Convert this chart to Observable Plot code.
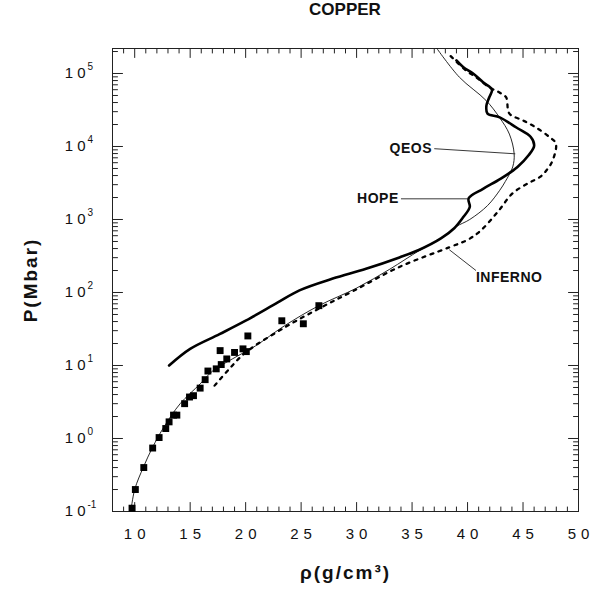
<!DOCTYPE html>
<html><head><meta charset="utf-8">
<script src="https://cdn.jsdelivr.net/npm/d3@7"></script>
<script src="https://cdn.jsdelivr.net/npm/@observablehq/plot@0.6"></script>
<style>
body{margin:0;background:#fff;}
#title{height:35px;line-height:35px;font:bold 17px "Liberation Sans",Arial,sans-serif;padding-left:88px;width:514px;text-align:center;color:#111;}
</style>
</head><body>
<div id="title">COPPER</div>
<div id="chart"></div>
<script>
// ---- data ----
const xTickLabels = [10, 15, 20, 25, 30, 35, 40, 45, 50];
const yDecades = [0.1, 1, 10, 100, 1000, 10000, 100000];
const yExponents = ["-1", "0", "1", "2", "3", "4", "5"];

// QEOS (thin solid)
const qeosRho = [9.65, 10.0, 10.8, 11.6, 12.65, 14.1, 15.9, 17.06, 18.8, 20.9, 23.5, 26.6, 30.0, 33.0, 35.66, 37.6, 38.95, 40.2, 41.8, 42.9, 43.4, 44.07, 44.2, 43.77, 42.87, 41.67, 39.26, 37.2];
const qeosP   = [0.10, 0.20, 0.41, 0.75, 1.45, 3.0, 5.6, 8.5, 12.3, 18.6, 35, 66, 115, 209, 376, 550, 795, 1000, 1550, 2510, 3310, 5250, 7940, 14800, 25100, 42700, 89100, 224000];

// HOPE (thick solid)
const hopeRho = [13.1, 15.0, 17.65, 20.0, 22.9, 24.85, 27.85, 30.85, 33.86, 35.66, 37.6, 38.8, 39.6, 40.2, 40.1, 41.4, 43.0, 44.5, 45.5, 46.0, 45.7, 44.4, 42.9, 41.8, 41.7, 41.96, 42.2, 41.4, 40.5, 39.6, 39.0];
const hopeP   = [10, 16.9, 26.9, 41.1, 73.1, 107, 155, 211, 302, 385, 550, 759, 1070, 1480, 1950, 2630, 3630, 5250, 7590, 10200, 13500, 18200, 25100, 28200, 36300, 47300, 60300, 75900, 100000, 123000, 151000];

// INFERNO (dotted)
const infernoRho = [17.2, 18.5, 20.0, 23.5, 26.8, 29.7, 33.86, 38.36, 40.0, 41.2, 42.7, 44.07, 45.5, 46.5, 47.1, 47.67, 47.96, 47.37, 46.17, 44.97, 43.77, 43.47, 42.87, 41.96, 40.76, 39.86, 38.4];
const infernoP   = [5.3, 8.9, 15.1, 33.1, 62.4, 105, 224, 417, 525, 708, 1260, 2290, 3160, 3800, 4680, 6460, 11000, 13500, 18200, 22900, 28200, 47300, 55000, 64600, 89100, 110000, 178000];

// experimental points (squares)
const expRho = [9.76, 10.06, 10.82, 11.62, 12.2, 12.8, 13.1, 13.5, 13.8, 14.5, 14.94, 15.3, 15.9, 16.35, 16.6, 17.35, 17.7, 17.8, 18.3, 19.0, 19.76, 20.06, 20.2, 23.26, 25.2, 26.6];
const expP   = [0.111, 0.20, 0.40, 0.74, 1.03, 1.37, 1.69, 2.09, 2.09, 3.0, 3.7, 3.86, 4.9, 6.4, 8.4, 9.0, 16.0, 10.3, 12.3, 15.1, 16.9, 15.5, 25.4, 41, 37.3, 66];

// curve labels and leader lines
const labelNames = ["QEOS", "HOPE", "INFERNO"];
const labelRho = [36.8, 33.8, 40.76];
const labelP = [9330, 1920, 162];
const leaderRho1 = [37.0, 34.0, 40.76];
const leaderP1 = [9330, 1920, 200];
const leaderRho2 = [44.3, 40.0, 38.36];
const leaderP2 = [7940, 1920, 385];

// ---- build ----
const xDomain = [8, 50];
const yDomain = [0.1, 2.2e5];
const xMinor = d3.range(8, 51).filter(v => !xTickLabels.includes(v));
const yMinor = yDecades.flatMap(d => [2,3,4,5,6,7,8,9].map(m => +(d * m).toPrecision(3))).filter(v => v < yDomain[1]);

const tickShape = {draw(ctx, l) { ctx.moveTo(0, 0); ctx.lineTo(0, -l); }};
const tk = (vals, axis, len) => {
  const common = {length: len, anchor: "start", shape: tickShape, stroke: "#222", strokeWidth: 1};
  if (axis === "bottom") return Plot.vector(vals, {x: d => d, y: yDomain[0], rotate: 0, ...common});
  if (axis === "top") return Plot.vector(vals, {x: d => d, y: yDomain[1], rotate: 180, ...common});
  if (axis === "left") return Plot.vector(vals, {y: d => d, x: xDomain[0], rotate: 90, ...common});
  return Plot.vector(vals, {y: d => d, x: xDomain[1], rotate: 270, ...common});
};

const idx = a => a.map((_, i) => i);
const font = '"Liberation Sans", Arial, sans-serif';
const labelMark = (i, anchor) => Plot.text([i], {x: j => labelRho[j], y: j => labelP[j], text: j => labelNames[j], textAnchor: anchor, fontSize: 14, fontWeight: "bold"});

const chart = Plot.plot({
  width: 602,
  height: 556,
  marginLeft: 112,
  marginRight: 24,
  marginTop: 13,
  marginBottom: 80,
  style: {fontFamily: font, color: "#111", background: "#fff"},
  x: {domain: xDomain, axis: null},
  y: {type: "log", domain: yDomain, axis: null},
  marks: [
    Plot.frame({stroke: "#222", strokeWidth: 1}),
    tk(xTickLabels, "bottom", 9), tk(xMinor, "bottom", 4.5),
    tk(xTickLabels, "top", 9), tk(xMinor, "top", 4.5),
    tk(yDecades, "left", 10), tk(yMinor, "left", 5),
    tk(yDecades, "right", 10), tk(yMinor, "right", 5),
    Plot.text(xTickLabels, {x: d => d, frameAnchor: "bottom", dy: 27, dx: 2.5, text: d => String(d), fontSize: 15}),
    Plot.text(yDecades, {y: d => d, frameAnchor: "left", dx: -27, textAnchor: "end", text: () => "10", fontSize: 15}),
    Plot.text(idx(yDecades), {y: i => yDecades[i], frameAnchor: "left", dx: -25, dy: -7, textAnchor: "start", text: i => yExponents[i], fontSize: 10}),
    Plot.text(["ρ(g/cm³)"], {frameAnchor: "bottom", dy: 67, fontSize: 19, fontWeight: "bold"}),
    Plot.text(["P(Mbar)"], {frameAnchor: "left", textAnchor: "middle", dx: -82, rotate: -90, fontSize: 19, fontWeight: "bold"}),
    Plot.line(idx(qeosRho), {x: i => qeosRho[i], y: i => qeosP[i], stroke: "#111", strokeWidth: 0.9, curve: "catmull-rom", clip: true}),
    Plot.line(idx(hopeRho), {x: i => hopeRho[i], y: i => hopeP[i], stroke: "#000", strokeWidth: 2.6, curve: "catmull-rom", clip: true, strokeLinejoin: "round"}),
    Plot.line(idx(infernoRho), {x: i => infernoRho[i], y: i => infernoP[i], stroke: "#000", strokeWidth: 2.3, strokeDasharray: "3,5.5", curve: "catmull-rom", clip: true}),
    Plot.dot(idx(expRho), {x: i => expRho[i], y: i => expP[i], symbol: "square", r: 3.9, fill: "#000", stroke: "none"}),
    Plot.link(idx(labelNames), {x1: i => leaderRho1[i], y1: i => leaderP1[i], x2: i => leaderRho2[i], y2: i => leaderP2[i], stroke: "#222", strokeWidth: 0.9}),
    labelMark(0, "end"), labelMark(1, "end"), labelMark(2, "start")
  ]
});
document.getElementById("chart").appendChild(chart);
// letter spacing like the original typesetting
d3.select(chart).selectAll("text").each(function() {
  const t = this.textContent;
  const cs = getComputedStyle(this);
  const fs = parseFloat(cs.fontSize);
  if (fs >= 14.5 && fs < 16 && t === "10" && cs.textAnchor === "end") {
    // y-axis base "10": spread the digits without trailing space
    this.textContent = "";
    d3.select(this).append("tspan").text("1");
    d3.select(this).append("tspan").attr("dx", 4).text("0");
  } else if (fs >= 14.5 && fs < 16 && /^\d+$/.test(t)) {
    this.setAttribute("letter-spacing", "5");
  } else if (t === "P(Mbar)" || t === "ρ(g/cm³)") {
    this.setAttribute("letter-spacing", "2");
  } else if (labelNames.includes(t)) {
    this.setAttribute("letter-spacing", "0.5");
  }
});
</script>
</body></html>
